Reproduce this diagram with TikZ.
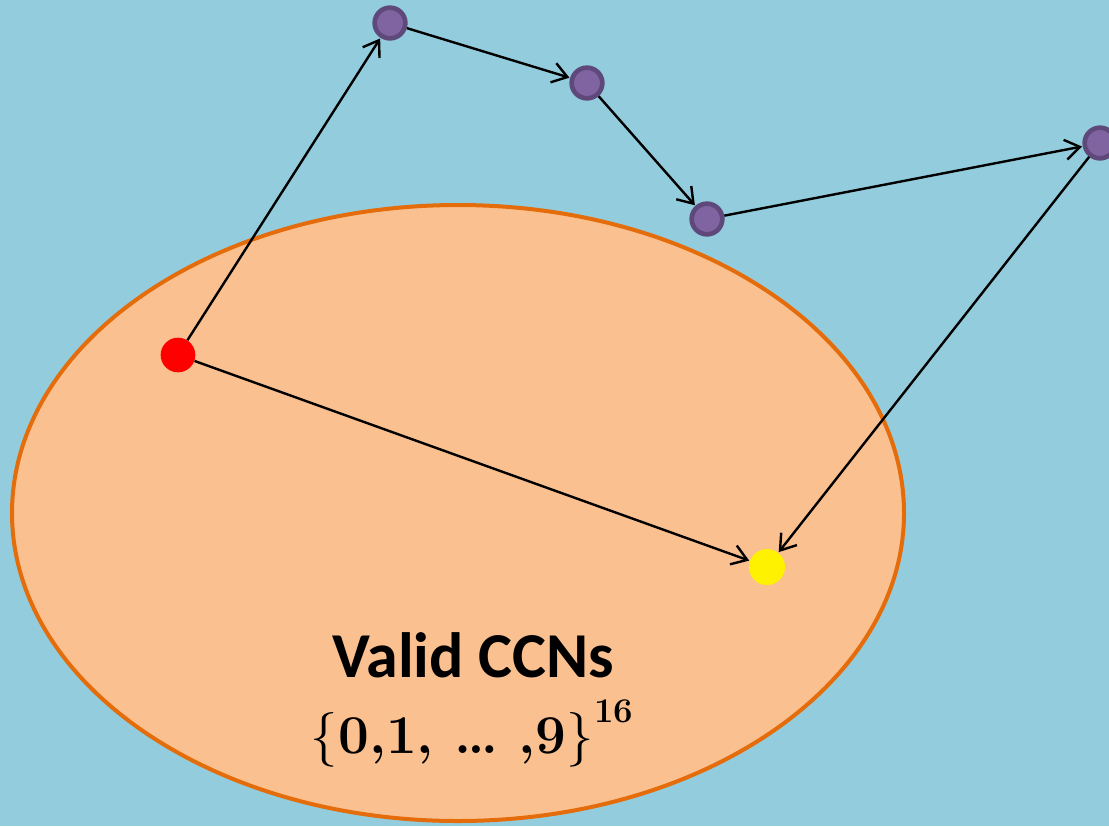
\documentclass[tikz,border=0pt]{standalone}
\usepackage{fontspec}
\newfontfamily\carlito{Carlito}
\newfontfamily\lmroman{Latin Modern Roman}
\usetikzlibrary{arrows.meta}
\definecolor{bgblue}{HTML}{93CDDD}
\definecolor{ellfill}{HTML}{FAC090}
\definecolor{elldraw}{HTML}{E46C0A}
\definecolor{purfill}{HTML}{8064A2}
\definecolor{purdraw}{HTML}{5F497A}
\newcommand{\ccntitlefont}{\carlito\fontsize{48}{56}\selectfont\bfseries}
\newcommand{\ccnmathfont}{\lmroman\fontsize{41}{48}\selectfont}
\newcommand{\ccnsup}[1]{\raisebox{0.55em}{\fontsize{26}{30}\selectfont\bfseries #1}}
\tikzset{
  pnode/.style={circle, fill=purfill, draw=purdraw, line width=3.5pt, minimum size=23pt, inner sep=0pt},
  rnode/.style={circle, fill=red, minimum size=26pt, inner sep=0pt},
  ynode/.style={circle, fill=yellow, minimum size=27pt, inner sep=0pt},
  conn/.style={line width=1.8pt, -{Straight Barb[length=11pt,width=15pt,line width=1.8pt]}, shorten >=0.5pt}
}
\begin{document}
\begin{tikzpicture}[x=0.75pt,y=-0.75pt]
\fill[bgblue] (0,0) rectangle (1109,826);
\useasboundingbox (0,0) rectangle (1109,826);
\draw[fill=ellfill, draw=elldraw, line width=3pt] (458,513) ellipse [x radius=446, y radius=308];
\node[rnode] (r) at (178,355) {};
\node[ynode] (y) at (767,567) {};
\node[pnode] (p1) at (390,23) {};
\node[pnode] (p2) at (587,83) {};
\node[pnode] (p3) at (707,219) {};
\node[pnode] (p4) at (1100,143) {};
\draw[conn] (r) -- (p1);
\draw[conn] (p1) -- (p2);
\draw[conn] (p2) -- (p3);
\draw[conn] (p3) -- (p4);
\draw[conn] (p4) -- (y);
\draw[conn] (r) -- (y);
\node[font=\ccntitlefont, anchor=base, inner sep=0pt] (t1) at (473,677) {Valid CCNs};
\node[font=\ccnmathfont, anchor=base, inner sep=0pt] (t2) at (472,753) {\{{\bfseries 0,1,\ \ldots\ ,9}\}\ccnsup{16}};
\end{tikzpicture}
\end{document}
